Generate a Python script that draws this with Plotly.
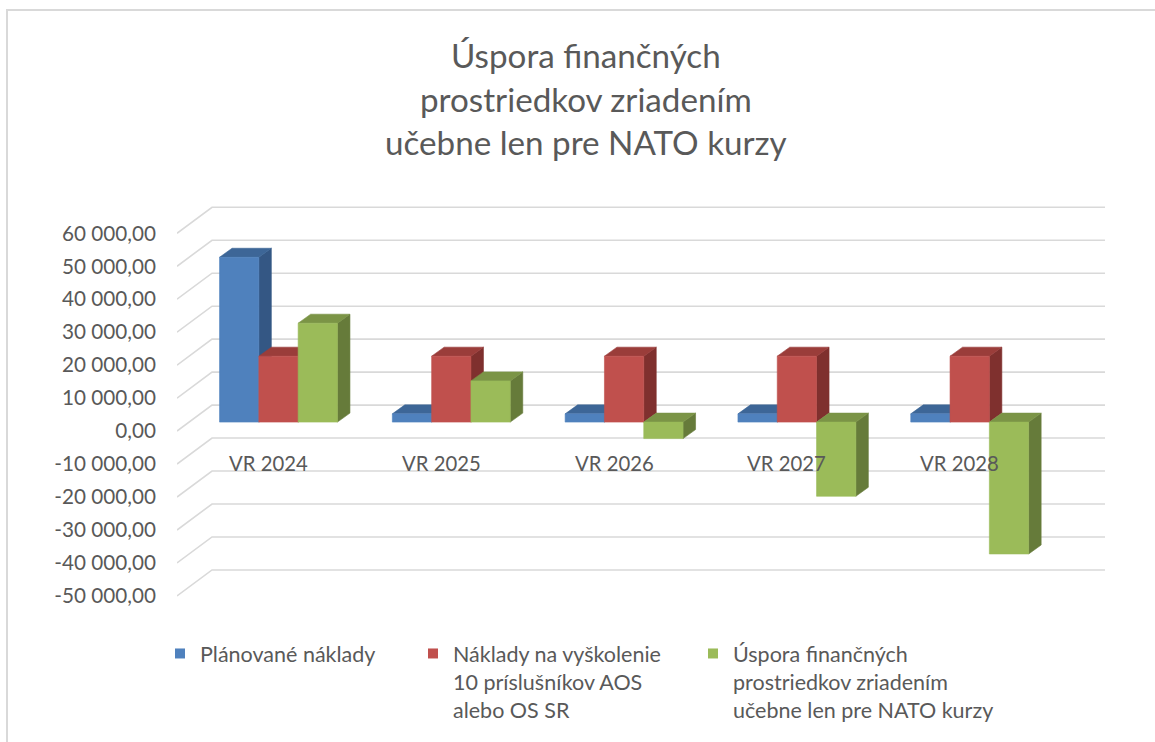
import plotly.graph_objects as go

# ---------------- data ----------------
categories = ["VR 2024", "VR 2025", "VR 2026", "VR 2027", "VR 2028"]
series_names = [
    "Plánované náklady",
    "Náklady na vyškolenie<br>10 príslušníkov AOS<br>alebo OS SR",
    "Úspora finančných<br>prostriedkov zriadením<br>učebne len pre NATO kurzy",
]
planned = [50000, 2500, 2500, 2500, 2500]
training = [20000, 20000, 20000, 20000, 20000]
savings = [30000, 12500, -5000, -22500, -40000]
tick_vals = [60000, 50000, 40000, 30000, 20000, 10000, 0, -10000, -20000, -30000, -40000, -50000]
tick_text = ["60 000,00", "50 000,00", "40 000,00", "30 000,00", "20 000,00", "10 000,00", "0,00",
             "-10 000,00", "-20 000,00", "-30 000,00", "-40 000,00", "-50 000,00"]
title_lines = ["Úspora finančných", "prostriedkov zriadením", "učebne len pre NATO kurzy"]

# ---------------- style ----------------
FONT = "Lato"
GRAY = "#595959"
GRID = "#d9d9d9"
front_cols = ["#4f81bd", "#c0504d", "#9bbb59"]
top_cols = ["#3d6697", "#9a3d3a", "#7b9446"]
side_cols = ["#345784", "#7f302e", "#667b3a"]

W, H = 1155, 742
ML, MR, MT, MB = 177, 50, 200, 142
PW, PH = W - ML - MR, H - MT - MB
PX_PER_CAT = 172.8
CAT0_PX = 268.5
PX_PER_10K = 32.97
ZERO_PX = 431.1

x_range = [(ML - CAT0_PX) / PX_PER_CAT, (W - MR - CAT0_PX) / PX_PER_CAT]
y_range = [(ZERO_PX - (H - MB)) / PX_PER_10K * 10000, (ZERO_PX - MT) / PX_PER_10K * 10000]

def dxu(px):
    return px / PX_PER_CAT

def dyu(px):
    return px / PX_PER_10K * 10000

WALL_DX, WALL_DY = dxu(35), dyu(26)
BAR_DX, BAR_DY = dxu(10), dyu(9)
BAR_W = dxu(39.3)
DEP_DX, DEP_DY = dxu(12.5), dyu(9)

def ppx(px):
    return (px - ML) / PW

def ppy(py):
    return (H - MB - py) / PH

fig = go.Figure()

# back wall gridlines + side-wall diagonals
gx, gy = [], []
for t in tick_vals:
    gx += [x_range[0], x_range[0] + WALL_DX, x_range[1], None]
    gy += [t, t + WALL_DY, t + WALL_DY, None]
fig.add_trace(go.Scatter(x=gx, y=gy, mode="lines", line=dict(color=GRID, width=1.6),
                         hoverinfo="skip", showlegend=False, cliponaxis=False))

# 3D bars
all_series = [planned, training, savings]
for s, vals in enumerate(all_series):
    faces = {"side": ([], []), "top": ([], []), "front": ([], [])}
    for i, v in enumerate(vals):
        a = i - 1.5 * BAR_W + s * BAR_W + BAR_DX
        b = a + BAR_W
        lo = min(v, 0) + BAR_DY
        hi = max(v, 0) + BAR_DY
        fx, fy = faces["front"]
        fx += [a, b, b, a, a, None]
        fy += [lo, lo, hi, hi, lo, None]
        tx, ty = faces["top"]
        tx += [a, b, b + DEP_DX, a + DEP_DX, a, None]
        ty += [hi, hi, hi + DEP_DY, hi + DEP_DY, hi, None]
        sx, sy = faces["side"]
        sx += [b, b + DEP_DX, b + DEP_DX, b, b, None]
        sy += [lo, lo + DEP_DY, hi + DEP_DY, hi, lo, None]
    for face, col in (("side", side_cols[s]), ("top", top_cols[s]), ("front", front_cols[s])):
        xx, yy = faces[face]
        fig.add_trace(go.Scatter(x=xx, y=yy, mode="lines", fill="toself", fillcolor=col,
                                 line=dict(color=col, width=0.6), hoverinfo="skip",
                                 showlegend=False))

# legend entries
legend_ids = ["legend", "legend2", "legend3"]
for s, name in enumerate(series_names):
    fig.add_trace(go.Scatter(x=[None], y=[None], mode="markers", name=name,
                             marker=dict(symbol="square", size=10, color=front_cols[s]),
                             legend=legend_ids[s], showlegend=True))

leg_x = [160, 413, 693]
leg_common = dict(orientation="v", xref="container", yref="container", yanchor="top",
                  xanchor="left", font=dict(family=FONT, size=21.5, color=GRAY),
                  bgcolor="rgba(0,0,0,0)", itemclick=False, itemdoubleclick=False,
                  tracegroupgap=0, valign="top")

annotations = []
# category labels
for i, c in enumerate(categories):
    annotations.append(dict(x=i, y=0, xref="x", yref="y", yshift=-32, text=c, showarrow=False,
                            font=dict(family=FONT, size=20.3, color=GRAY),
                            xanchor="center", yanchor="middle"))
# title lines
for k, line in enumerate(title_lines):
    annotations.append(dict(x=ppx(586), y=ppy(55 + k * 43.5), xref="paper", yref="paper",
                            text=line, showarrow=False,
                            font=dict(family=FONT, size=33.2, color=GRAY),
                            xanchor="center", yanchor="middle"))

shapes = [dict(type="path", xref="paper", yref="paper",
               path=f"M {ppx(7)},{ppy(742)} L {ppx(7)},{ppy(10)} L {ppx(1155)},{ppy(10)}",
               line=dict(color=GRID, width=2))]

fig.update_layout(
    width=W, height=H,
    margin=dict(l=ML, r=MR, t=MT, b=MB, autoexpand=False),
    paper_bgcolor="white", plot_bgcolor="white",
    xaxis=dict(range=x_range, showgrid=False, zeroline=False, showticklabels=False,
               showline=False, fixedrange=True, automargin=False),
    yaxis=dict(range=y_range, tickmode="array", tickvals=tick_vals, ticktext=tick_text,
               showgrid=False, zeroline=False, showline=False, ticks="",
               ticklabelstandoff=20, tickfont=dict(family=FONT, size=20.7, color=GRAY),
               fixedrange=True, automargin=False),
    legend=dict(x=leg_x[0] / W, y=1 - 633 / H, **leg_common),
    legend2=dict(x=leg_x[1] / W, y=1 - 633 / H, **leg_common),
    legend3=dict(x=leg_x[2] / W, y=1 - 633 / H, **leg_common),
    annotations=annotations,
    shapes=shapes,
    showlegend=True,
)

fig.write_html("out.html", config={"displayModeBar": False},
               post_script="document.body.style.margin='0';")
